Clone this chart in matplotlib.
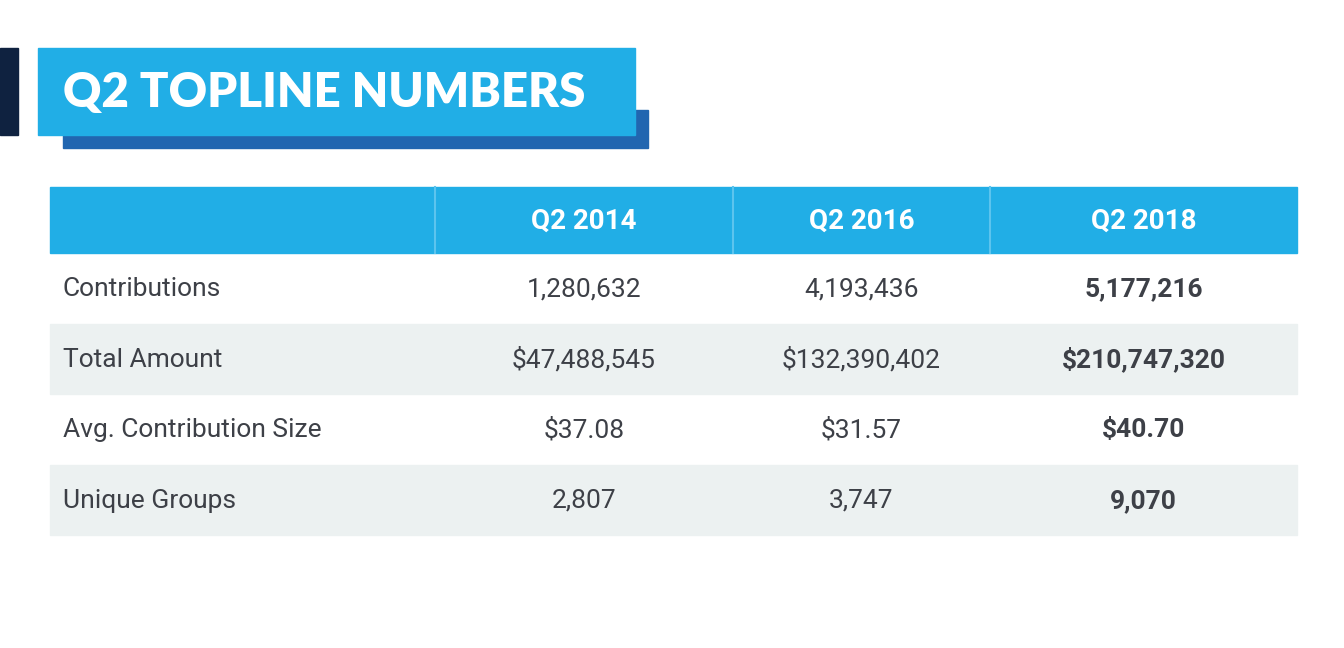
import matplotlib

matplotlib.use("Agg")
import matplotlib.pyplot as plt
from matplotlib.patches import Rectangle

TITLE = "Q2 TOPLINE NUMBERS"
COLUMNS = ["Q2 2014", "Q2 2016", "Q2 2018"]
ROW_LABELS = ["Contributions", "Total Amount", "Avg. Contribution Size", "Unique Groups"]
Q2_2014 = ["1,280,632", "$47,488,545", "$37.08", "2,807"]
Q2_2016 = ["4,193,436", "$132,390,402", "$31.57", "3,747"]
Q2_2018 = ["5,177,216", "$210,747,320", "$40.70", "9,070"]

CYAN = "#21aee6"
SHADOW = "#2166b0"
NAVY = "#0f2240"
STRIPE = "#ecf1f1"
TEXT = "#3d4047"
FONT = "Roboto"

fig = plt.figure(figsize=(13.44, 6.48), dpi=100)
ax = fig.add_axes([0, 0, 1, 1])
ax.set_xlim(0, 1344)
ax.set_ylim(648, 0)
ax.axis("off")

# title block
ax.add_patch(Rectangle((0, 48), 18, 87, color=NAVY))
ax.add_patch(Rectangle((63, 110), 585, 38, color=SHADOW))
ax.add_patch(Rectangle((38, 48), 597, 87, color=CYAN))
ax.text(63, 93, TITLE, color="white", fontsize=34, fontweight="heavy",
        family="Lato", va="center", ha="left")

# table
left, right = 50, 1297
header_top, header_h, row_h = 187, 66, 70.5
col_edges = [435, 733, 990, right]
col_centers = [(a + b) / 2 for a, b in zip(col_edges[:-1], col_edges[1:])]

ax.add_patch(Rectangle((left, header_top), right - left, header_h, color=CYAN))
for x in col_edges[:-1]:
    ax.plot([x, x], [header_top, header_top + header_h], color="#5cc4ee", lw=1.5)
for name, cx in zip(COLUMNS, col_centers):
    ax.text(cx, header_top + header_h / 2 + 1, name, color="white", fontsize=20,
            fontweight="bold", family=FONT, ha="center", va="center")

columns = [Q2_2014, Q2_2016, Q2_2018]
for i, label in enumerate(ROW_LABELS):
    top = header_top + header_h + i * row_h
    if i % 2 == 1:
        ax.add_patch(Rectangle((left, top), right - left, row_h, color=STRIPE))
    cy = top + row_h / 2 + 1
    ax.text(63, cy, label, color=TEXT, fontsize=19, family=FONT, ha="left", va="center")
    for j, (values, cx) in enumerate(zip(columns, col_centers)):
        ax.text(cx, cy, values[i], color=TEXT, fontsize=19, family=FONT,
                fontweight="bold" if j == 2 else "normal", ha="center", va="center")

fig.savefig("out.png", dpi=100)
